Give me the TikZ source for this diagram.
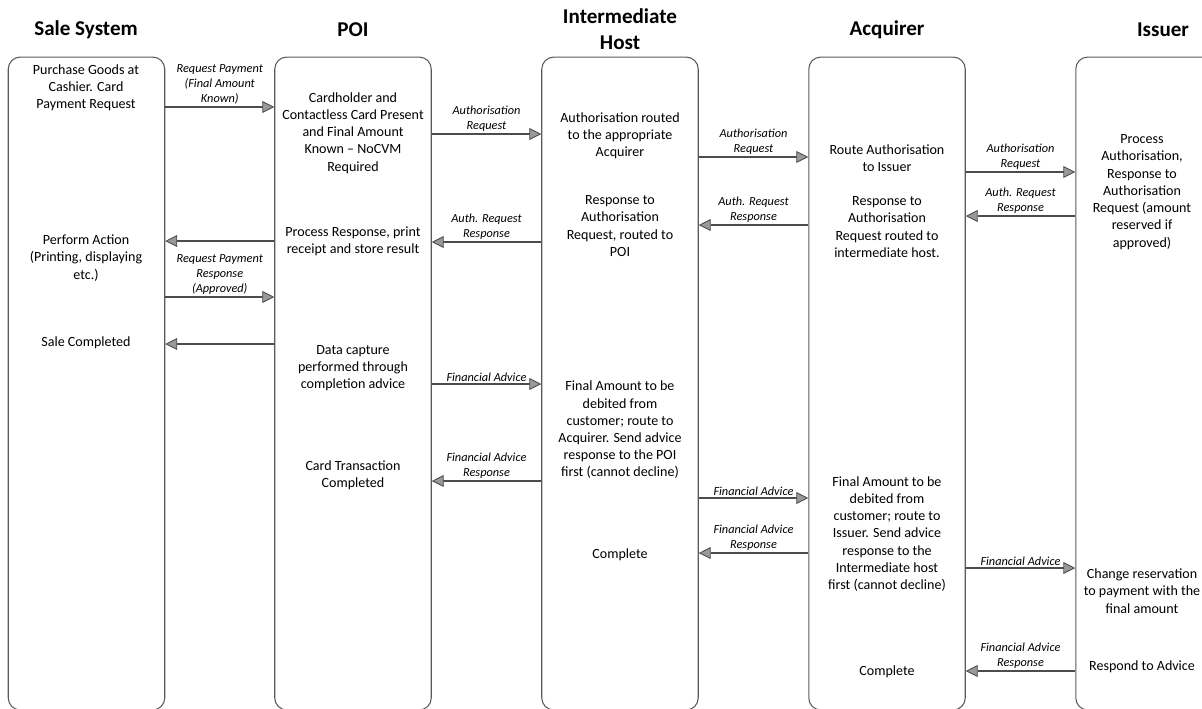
\documentclass[tikz,border=0pt]{standalone}
\usepackage{fontspec}
\setmainfont{Carlito}
\usetikzlibrary{arrows.meta}
\begin{document}
\begin{tikzpicture}[x=0.02cm,y=-0.02cm,
  lane/.style={draw=black!65, line width=0.6pt, rounded corners=0.24cm,
    minimum width=3.13cm, minimum height=13.06cm, inner sep=0pt},
  head/.style={font=\fontsize{12}{14.8}\selectfont\bfseries, align=center, inner sep=0pt},
  txt/.style={font=\fontsize{8}{9.8}\selectfont, align=center, inner sep=0pt},
  msg/.style={draw=black!70, line width=0.85pt,
    -{Triangle[length=6.8pt,width=6.8pt,fill=black!40,line width=0.5pt]}},
  lbl/.style={font=\fontsize{7}{8.5}\selectfont\itshape, align=center, inner sep=1pt, above}
]
\useasboundingbox (0,0) rectangle (1202,708);
\clip (0,0) rectangle (1202,708);

% swim lanes (open below the page edge)
\node[lane] (sale) at (86.5,383.5) {};
\node[lane] (poi)  at (353,383.5) {};
\node[lane] (ih)   at (620,383.5) {};
\node[lane] (acq)  at (887,383.5) {};
\node[lane] (iss)  at (1154,383.5) {};

% lane headings
\node[head] (hsale) at (86,30) {Sale System};
\node[head] (hpoi)  at (353,30) {POI};
\node[head] (hih)   at (620,29) {Intermediate\\Host};
\node[head] (hacq)  at (887,30) {Acquirer};
\node[head] (hiss)  at (1163,30) {Issuer};

% Sale System steps
\node[txt] (s1) at (86,88) {Purchase Goods at\\Cashier. Card\\Payment Request};
\node[txt] (s2) at (86,258) {Perform Action\\(Printing, displaying\\etc.)};
\node[txt] (s3) at (86,343) {Sale Completed};

% POI steps
\node[txt] (p1) at (353,133) {Cardholder and\\Contactless Card Present\\and Final Amount\\Known – NoCVM\\Required};
\node[txt] (p2) at (353,241) {Process Response, print\\receipt and store result};
\node[txt] (p3) at (353,368) {Data capture\\performed through\\completion advice};
\node[txt] (p4) at (353,475) {Card Transaction\\Completed};

% Intermediate Host steps
\node[txt] (i1) at (620,136) {Authorisation routed\\to the appropriate\\Acquirer};
\node[txt] (i2) at (620,226) {Response to\\Authorisation\\Request, routed to\\POI};
\node[txt] (i3) at (620,430) {Final Amount to be\\debited from\\customer; route to\\Acquirer. Send advice\\response to the POI\\first (cannot decline)};
\node[txt] (i4) at (620,555) {Complete};

% Acquirer steps
\node[txt] (a1) at (887,158) {Route Authorisation\\to Issuer};
\node[txt] (a2) at (887,227) {Response to\\Authorisation\\Request routed to\\intermediate host.};
\node[txt] (a3) at (887,534) {Final Amount to be\\debited from\\customer; route to\\Issuer. Send advice\\response to the\\Intermediate host\\first (cannot decline)};
\node[txt] (a4) at (887,672) {Complete};

% Issuer steps
\node[txt] (u1) at (1142,192) {Process\\Authorisation,\\Response to\\Authorisation\\Request (amount\\reserved if\\approved)};
\node[txt] (u2) at (1142,591) {Change reservation\\to payment with the\\final amount};
\node[txt] (u3) at (1142,667) {Respond to Advice};

% messages
\draw[msg] (sale.east |- 0,107) -- node[lbl]{Request Payment\\(Final Amount\\Known)} (poi.west |- 0,107);
\draw[msg] (poi.east |- 0,134) -- node[lbl]{Authorisation\\Request} (ih.west |- 0,134);
\draw[msg] (ih.east |- 0,157) -- node[lbl]{Authorisation\\Request} (acq.west |- 0,157);
\draw[msg] (acq.east |- 0,172) -- node[lbl]{Authorisation\\Request} (iss.west |- 0,172);
\draw[msg] (iss.west |- 0,216) -- node[lbl]{Auth. Request\\Response} (acq.east |- 0,216);
\draw[msg] (acq.west |- 0,225) -- node[lbl]{Auth. Request\\Response} (ih.east |- 0,225);
\draw[msg] (ih.west |- 0,242) -- node[lbl]{Auth. Request\\Response} (poi.east |- 0,242);
\draw[msg] (poi.west |- 0,241) -- (sale.east |- 0,241);
\draw[msg] (sale.east |- 0,297) -- node[lbl]{Request Payment\\Response\\(Approved)} (poi.west |- 0,297);
\draw[msg] (poi.west |- 0,344) -- (sale.east |- 0,344);
\draw[msg] (poi.east |- 0,384) -- node[lbl]{Financial Advice} (ih.west |- 0,384);
\draw[msg] (ih.west |- 0,481) -- node[lbl]{Financial Advice\\Response} (poi.east |- 0,481);
\draw[msg] (ih.east |- 0,498) -- node[lbl]{Financial Advice} (acq.west |- 0,498);
\draw[msg] (acq.west |- 0,553) -- node[lbl]{Financial Advice\\Response} (ih.east |- 0,553);
\draw[msg] (acq.east |- 0,568) -- node[lbl]{Financial Advice} (iss.west |- 0,568);
\draw[msg] (iss.west |- 0,671) -- node[lbl]{Financial Advice\\Response} (acq.east |- 0,671);
\end{tikzpicture}
\end{document}
